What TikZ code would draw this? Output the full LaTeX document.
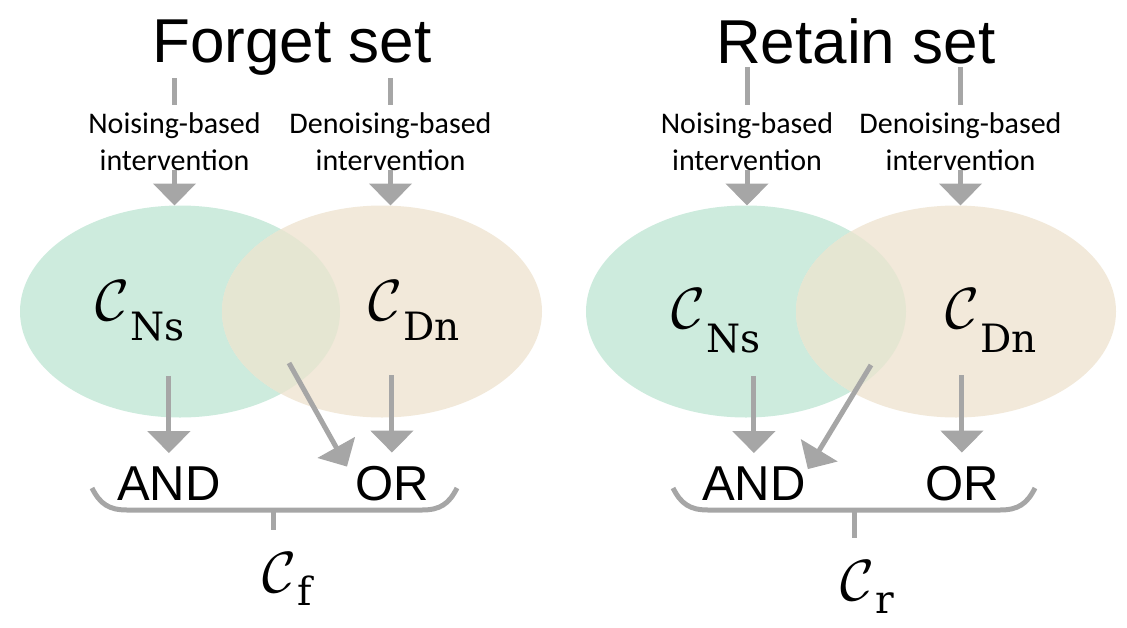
\documentclass[tikz,border=0pt]{standalone}
\usepackage{graphicx}
\usepackage{fontspec}
\usetikzlibrary{arrows.meta,shapes.geometric}
\newfontfamily\arialf{Liberation Sans}
\newfontfamily\calf{Carlito}
\newfontfamily\subf{DejaVu Serif}
\definecolor{cgreen}{HTML}{CDEBDD}
\definecolor{cbeige}{HTML}{F2E9DA}
\definecolor{cover}{HTML}{E5E6D2}
\definecolor{cgray}{HTML}{A6A6A6}
% calligraphic C with a lowered roman subscript: #1 text, #2 size, #3 drop
\newcommand\csym[3]{\scalebox{5.8}{$\mathcal{C}$}\kern1pt\raisebox{-#3pt}{\fontsize{#2}{#2}\selectfont\subf #1}}
\tikzset{
  ttl/.style={font=\arialf\fontsize{62}{70}\selectfont, inner sep=0pt, anchor=base west},
  lbl/.style={font=\calf\fontsize{30}{37}\selectfont, align=center, inner sep=0pt, anchor=north},
  gate/.style={font=\arialf\fontsize{49}{55}\selectfont, inner sep=0pt, anchor=base west},
  cnode/.style={inner sep=0pt, anchor=base west},
  setell/.style={ellipse, minimum width=320pt, minimum height=212pt, inner sep=0pt, outer sep=0pt},
  arr/.style={draw=cgray, line width=5pt, -{Triangle[width=42pt,length=22pt]}},
  bar/.style={draw=cgray, line width=5pt},
}
\begin{document}
\begin{tikzpicture}[x=1pt,y=-1pt]
\useasboundingbox (0,0) rectangle (1127,627);

% ---------------- left panel: forget set ----------------
\node[setell, fill=cgreen] (fg) at (180,311.5) {};
\node[setell, fill=cbeige] (fb) at (382,311.5) {};
\begin{scope}
  \clip (180,311.5) ellipse [x radius=160pt, y radius=106pt];
  \fill[cover] (382,311.5) ellipse [x radius=160pt, y radius=106pt];
\end{scope}

\node[ttl] (ft) at (152,62) {Forget set};
\node[lbl] (fn) at (174.5,112) {Noising-based\\intervention};
\node[lbl] (fd) at (390.5,112) {Denoising-based\\intervention};
\draw[bar, shorten <=3pt, shorten >=7pt] (fn.north |- ft.south) -- (fn.north);
\draw[bar, shorten <=3pt, shorten >=7pt] (fd.north |- ft.south) -- (fd.north);
\draw[arr] (fn.south) -- (fn.south |- fg.north);
\draw[arr] (fd.south) -- (fd.south |- fb.north);

\node[cnode] (fns) at (95,320) {\csym{Ns}{39}{20}};
\node[cnode] (fdn) at (368,320) {\csym{Dn}{39}{20}};

\node[gate] (fA) at (117,500) {AND};
\node[gate] (fO) at (355,500) {OR};
\draw[arr, shorten <=35pt, shorten >=13pt] (fA.north |- fns.south) -- (fA.north);
\draw[arr, shorten <=35pt, shorten >=13pt] (fO.north |- fdn.south) -- (fO.north);
\coordinate (fx) at (289,363);
\draw[arr] (fx) -- ([xshift=-8pt,yshift=-1pt]fO.north west);

\coordinate (fbL) at (92,488);
\coordinate (fbR) at (457,488);
\coordinate (fbM) at (273,510);
\draw[bar] (fbL) .. controls +(8,16) and +(-18,0) .. (127,510) -- (422,510)
  .. controls +(18,0) and +(-8,16) .. (fbR);
\node[cnode] (fcf) at (262,592) {\csym{f}{39}{13}};
\draw[bar, shorten >=22pt] (fbM) -- (fbM |- fcf.north);

% ---------------- right panel: retain set ----------------
\node[setell, fill=cgreen] (rg) at (746,311.5) {};
\node[setell, fill=cbeige] (rb) at (956,311.5) {};
\begin{scope}
  \clip (746,311.5) ellipse [x radius=160pt, y radius=106pt];
  \fill[cover] (956,311.5) ellipse [x radius=160pt, y radius=106pt];
\end{scope}

\node[ttl] (rt) at (716,63) {Retain set};
\node[lbl] (rn) at (747,112) {Noising-based\\intervention};
\node[lbl] (rd) at (960.5,112) {Denoising-based\\intervention};
\draw[bar, shorten <=3pt, shorten >=7pt] (rn.north |- rt.south) -- (rn.north);
\draw[bar, shorten <=3pt, shorten >=7pt] (rd.north |- rt.south) -- (rd.north);
\draw[arr] (rn.south) -- (rn.south |- rg.north);
\draw[arr] (rd.south) -- (rd.south |- rb.north);

\node[cnode] (rns) at (671,328) {\csym{Ns}{39}{24}};
\node[cnode] (rdn) at (945,328) {\csym{Dn}{39}{24}};

\node[gate] (rA) at (702,500) {AND};
\node[gate] (rO) at (925,500) {OR};
\draw[arr, shorten <=23pt, shorten >=13pt] (rA.north |- rns.south) -- (rA.north);
\draw[arr, shorten <=23pt, shorten >=13pt] (rO.north |- rdn.south) -- (rO.north);
\coordinate (rx) at (871,365);
\draw[arr] (rx) -- ([xshift=2pt,yshift=-3pt]rA.north east);

\coordinate (rbL) at (673,488);
\coordinate (rbR) at (1035,488);
\coordinate (rbM) at (854,510);
\draw[bar] (rbL) .. controls +(8,16) and +(-18,0) .. (708,510) -- (1000,510)
  .. controls +(18,0) and +(-8,16) .. (rbR);
\node[cnode] (rcr) at (840,600) {\csym{r}{39}{13}};
\draw[bar, shorten >=22pt] (rbM) -- (rbM |- rcr.north);
\end{tikzpicture}
\end{document}
